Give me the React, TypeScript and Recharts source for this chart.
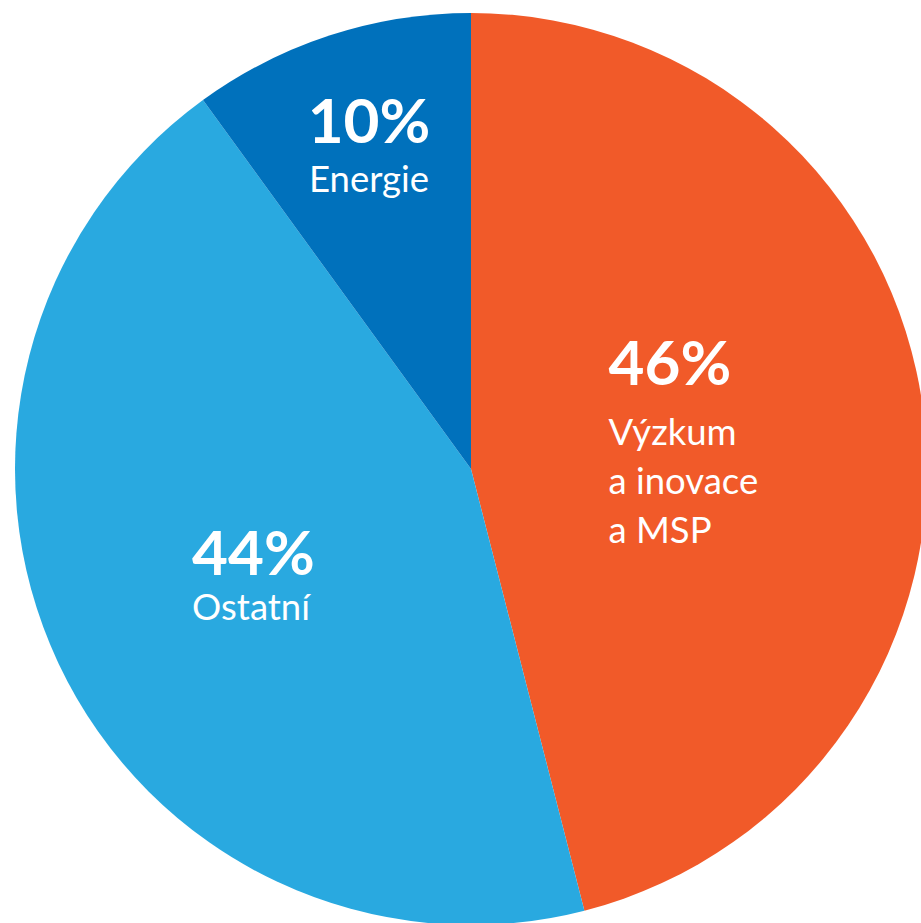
import { PieChart, Pie, Cell } from "recharts";

const categories = ["Výzkum\na inovace\na MSP", "Ostatní", "Energie"];
const shares = [46, 44, 10];
const colors = ["#F15A29", "#29A9E0", "#0071BC"];

const data = categories.map((name, i) => ({ name, value: shares[i] }));

// label block placement: radial factor, horizontal shift, alignment, gaps
const labelLayout = [
  { f: 0.463, dx: -72, anchor: "start", gap: 60, lh: 49 },
  { f: 0.55, dx: -52, anchor: "start", gap: 45, lh: 49 },
  { f: 0.745, dx: 3, anchor: "middle", gap: 49, lh: 49 },
];

const RAD = Math.PI / 180;
const CAP = 43;

function SliceLabel(props: any) {
  const { cx, cy, midAngle, outerRadius, index, value, name } = props;
  const lay = labelLayout[index];
  const r = outerRadius * lay.f;
  const bx = cx + r * Math.cos(-midAngle * RAD);
  const by = cy + r * Math.sin(-midAngle * RAD);
  const lines = String(name).split("\n");
  const h = CAP + lay.gap + (lines.length - 1) * lay.lh;
  const top = by - h / 2;
  const x = bx + lay.dx;
  return (
    <g fontFamily="Lato, 'Open Sans', sans-serif" fill="#fff">
      <text x={x} y={top + CAP} textAnchor={lay.anchor} fontSize={62} fontWeight={700}>
        {value}%
      </text>
      {lines.map((ln, i) => (
        <text
          key={i}
          x={x}
          y={top + CAP + lay.gap + i * lay.lh}
          textAnchor={lay.anchor}
          fontSize={36.5}
        >
          {ln}
        </text>
      ))}
    </g>
  );
}

export default function App() {
  return (
    <div style={{ position: "absolute", left: 0, top: 0, background: "#fff" }}>
      <PieChart width={921} height={923} margin={{ top: 0, right: 0, bottom: 0, left: 0 }}>
        <Pie
          data={data}
          dataKey="value"
          nameKey="name"
          cx={471}
          cy={469}
          innerRadius={0}
          outerRadius={456}
          startAngle={90}
          endAngle={-270}
          stroke="none"
          labelLine={false}
          label={SliceLabel}
          isAnimationActive={false}
        >
          {data.map((_, i) => (
            <Cell key={i} fill={colors[i]} />
          ))}
        </Pie>
      </PieChart>
    </div>
  );
}
